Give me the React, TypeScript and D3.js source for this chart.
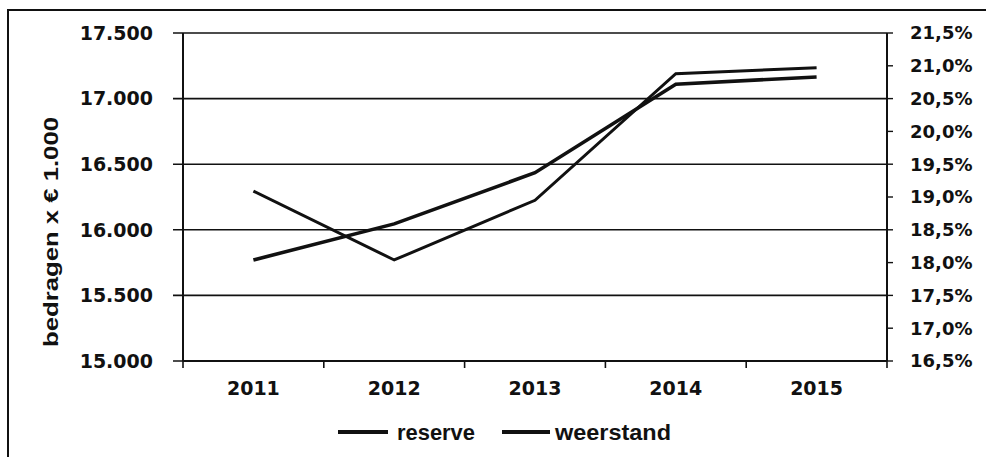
import React from "react";
import * as d3 from "d3";

const years = ["2011", "2012", "2013", "2014", "2015"];
const reserve = [15770, 16045, 16435, 17110, 17165];
const weerstand = [19.09, 18.04, 18.95, 20.88, 20.97];
const leftTicks = [15000, 15500, 16000, 16500, 17000, 17500];
const rightTicks = [16.5, 17, 17.5, 18, 18.5, 19, 19.5, 20, 20.5, 21, 21.5];
const seriesNames = ["reserve", "weerstand"];
const yTitle = "bedragen x € 1.000";

const W = 986;
const H = 457;
const L = 183;
const R = 887;
const T = 33;
const B = 361;

const nl = d3.formatLocale({ decimal: ",", thousands: ".", grouping: [3], currency: ["€", ""] });
const fmtL = nl.format(",.0f");
const fmtR = nl.format(".1f");

export default function App() {
  const x = d3.scaleBand<string>().domain(years).range([L, R]);
  const cx = (d: string) => (x(d) as number) + x.bandwidth() / 2;
  const yL = d3.scaleLinear().domain([15000, 17500]).range([B, T]);
  const yR = d3.scaleLinear().domain([16.5, 21.5]).range([B, T]);

  const lineL = d3.line<number>().x((_, i) => cx(years[i])).y((v) => yL(v));
  const lineR = d3.line<number>().x((_, i) => cx(years[i])).y((v) => yR(v));

  const stroke = "#111";
  const tickFont = "'DejaVu Sans', Verdana, sans-serif";
  const textFont = "'Liberation Sans', Arial, sans-serif";

  return (
    <svg width={W} height={H} style={{ position: "absolute", left: 0, top: 0, background: "#fff" }}>
      <rect x={8} y={10} width={1000} height={470} fill="#fff" stroke={stroke} strokeWidth={2} />

      {leftTicks.map((t) => (
        <line key={"g" + t} x1={L - 10} x2={R} y1={yL(t)} y2={yL(t)} stroke={stroke} strokeWidth={1.6} />
      ))}
      {rightTicks.map((t) => (
        <line key={"rt" + t} x1={R} x2={R + 6} y1={yR(t)} y2={yR(t)} stroke={stroke} strokeWidth={1.4} />
      ))}
      {years.map((y) => (
        <line key={"xt" + y} x1={x(y) as number} x2={x(y) as number} y1={B} y2={B + 7} stroke={stroke} strokeWidth={1.6} />
      ))}
      <line x1={R} x2={R} y1={B} y2={B + 7} stroke={stroke} strokeWidth={1.6} />

      <line x1={L} x2={L} y1={T} y2={B} stroke={stroke} strokeWidth={2} />
      <line x1={R} x2={R} y1={T} y2={B} stroke={stroke} strokeWidth={2} />
      <line x1={L} x2={R} y1={B} y2={B} stroke={stroke} strokeWidth={2} />

      {leftTicks.map((t) => (
        <text key={"ll" + t} x={153} y={yL(t)} dy="0.36em" textAnchor="end" fontFamily={tickFont} fontWeight="bold" fontSize={19} fill="#111">
          {fmtL(t)}
        </text>
      ))}
      {rightTicks.map((t) => (
        <text key={"rl" + t} x={910} y={yR(t)} dy="0.36em" textAnchor="start" fontFamily={tickFont} fontWeight="bold" fontSize={18} fill="#111">
          {fmtR(t) + "%"}
        </text>
      ))}
      {years.map((y) => (
        <text key={"xl" + y} x={cx(y)} y={395} textAnchor="middle" fontFamily={tickFont} fontWeight="bold" fontSize={19} fill="#111">
          {y}
        </text>
      ))}

      <text
        transform={`translate(58, 232) rotate(-90)`}
        textAnchor="middle"
        fontFamily={textFont}
        fontWeight="bold"
        fontSize={21}
        textLength={230}
        lengthAdjust="spacingAndGlyphs"
        fill="#111"
      >
        {yTitle}
      </text>

      <path d={lineL(reserve) as string} fill="none" stroke={stroke} strokeWidth={3.6} strokeLinejoin="miter" />
      <path d={lineR(weerstand) as string} fill="none" stroke={stroke} strokeWidth={3} strokeLinejoin="miter" />

      <line x1={338} x2={388} y1={432} y2={432} stroke={stroke} strokeWidth={4} />
      <text x={397} y={440} fontFamily={textFont} fontWeight="bold" fontSize={22} textLength={78} lengthAdjust="spacingAndGlyphs" fill="#111">
        {seriesNames[0]}
      </text>
      <line x1={502} x2={550} y1={432} y2={432} stroke={stroke} strokeWidth={4} />
      <text x={555} y={440} fontFamily={textFont} fontWeight="bold" fontSize={22} textLength={116} lengthAdjust="spacingAndGlyphs" fill="#111">
        {seriesNames[1]}
      </text>
    </svg>
  );
}
